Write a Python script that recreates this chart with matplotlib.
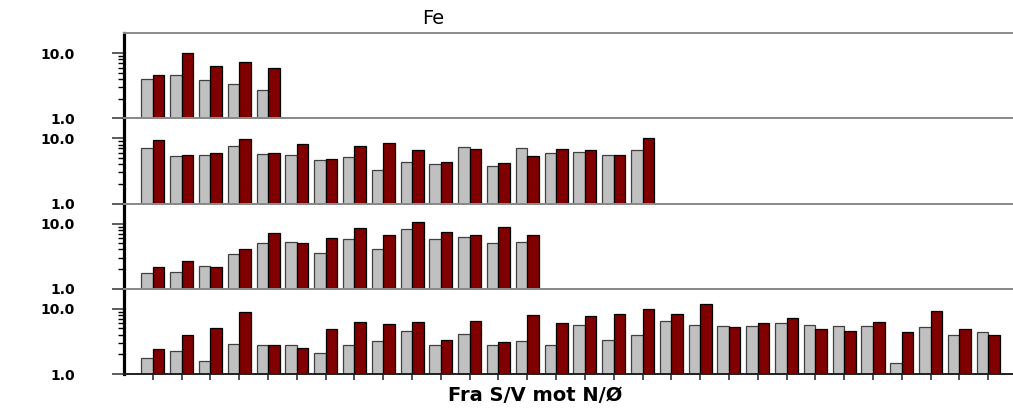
import matplotlib
matplotlib.use('Agg')
import matplotlib.pyplot as plt
import numpy as np
from matplotlib.ticker import FixedLocator, NullFormatter

title = "Fe"
xlabel = "Fra S/V mot N/Ø"
ytick_values = [1, 10]
ytick_labels = ["1.0", "10.0"]

panel1_gray = [3.94, 4.64, 3.89, 3.38, 2.73]
panel1_red = [4.64, 9.9, 6.3, 7.27, 6.0]

panel2_gray = [7.0, 5.28, 5.48, 7.53, 5.81, 5.48, 4.69, 5.1, 3.3,
               4.38, 4.08, 7.27, 3.80, 7.0, 5.88, 6.09, 5.48, 6.7]
panel2_red = [9.4, 5.48, 5.88, 9.9, 6.02, 8.09, 4.87, 7.53, 8.38,
              6.7, 4.38, 6.85, 4.17, 5.41, 6.93, 6.53, 5.48, 10.1]

panel3_gray = [1.74, 1.80, 2.23, 3.41, 5.1, 5.22, 3.58, 5.88, 4.12,
               8.18, 5.88, 6.31, 5.04, 5.28]
panel3_red = [2.18, 2.63, 2.18, 4.03, 7.1, 4.98, 6.09, 8.48, 6.77,
              10.4, 7.44, 6.61, 8.99, 6.77]

panel4_gray = [1.76, 2.28, 1.56, 2.88, 2.75, 2.75, 2.10, 2.75, 3.16, 4.55,
               2.75, 4.14, 2.75, 3.2, 2.75, 5.69, 3.31, 3.95, 6.55, 5.69,
               5.43, 5.43, 6.04, 5.56, 5.43, 5.43, 1.47, 5.3, 4.0, 4.39]
panel4_red = [2.39, 3.91, 5.06, 8.79, 2.78, 2.50, 4.94, 6.18, 5.89, 6.18,
              3.31, 6.47, 3.09, 8.09, 6.04, 7.63, 8.38, 9.9, 8.28, 11.9,
              5.24, 5.97, 7.28, 4.94, 4.61, 6.18, 4.45, 9.1, 4.94, 3.95]

panels = [(panel1_gray, panel1_red), (panel2_gray, panel2_red),
          (panel3_gray, panel3_red), (panel4_gray, panel4_red)]

W, H = 1013, 412
plt.rcParams['font.family'] = ['DejaVu Sans']
fig = plt.figure(figsize=(W / 100, H / 100), dpi=100)

GRAY = '#C0C0C0'
RED = '#800000'
LINEGRAY = '#8A8A8A'

left_px = 124
top_px = 33
ph = 85.25
bw = 0.4

for i, (g, r) in enumerate(panels):
    t = top_px + i * ph
    ax = fig.add_axes([left_px / W, 1 - (t + ph) / H, 1 - left_px / W, ph / H])
    ax.set_yscale('log')
    ax.set_ylim(1, 20.3)
    ax.set_xlim(-1.0, 29.86)
    x = np.arange(len(g))
    ax.bar(x - bw / 2, g, width=bw, color=GRAY, edgecolor='#404040', linewidth=0.9)
    ax.bar(x + bw / 2, r, width=bw, color=RED, edgecolor='black', linewidth=0.9)

    ax.yaxis.set_major_locator(FixedLocator(ytick_values))
    ax.set_yticklabels(ytick_labels, fontsize=10, fontweight='bold')
    ax.yaxis.set_minor_locator(FixedLocator([2, 3, 4, 5, 6, 7, 8, 9]))
    ax.yaxis.set_minor_formatter(NullFormatter())
    ax.tick_params(axis='y', which='major', length=8.5, width=1.1, pad=27, color='#303030')
    ax.tick_params(axis='y', which='minor', length=4, width=1.0, color='black')
    ax.yaxis.get_major_ticks()[0].tick1line.set_color(LINEGRAY)

    ax.spines['right'].set_visible(False)
    ax.spines['left'].set_linewidth(2.3)
    ax.spines['left'].set_color('black')
    ax.spines['top'].set_color(LINEGRAY)
    ax.spines['top'].set_linewidth(1.4)
    if i < 3:
        ax.spines['bottom'].set_color(LINEGRAY)
        ax.spines['bottom'].set_linewidth(1.4)
        ax.set_xticks([])
    else:
        ax.spines['bottom'].set_color('#202020')
        ax.spines['bottom'].set_linewidth(1.4)
        ax.set_xticks(x)
        ax.set_xticklabels([])
        ax.tick_params(axis='x', direction='out', length=4, width=1.1, color='#202020')
    ax.patch.set_alpha(0)

fig.text(433 / W, 1 - 24 / H, title, ha='center', va='baseline', fontsize=14)
fig.text(535 / W, 1 - 401 / H, xlabel, ha='center', va='baseline',
         fontsize=14, fontweight='bold')

fig.savefig('out.png', dpi=100)
